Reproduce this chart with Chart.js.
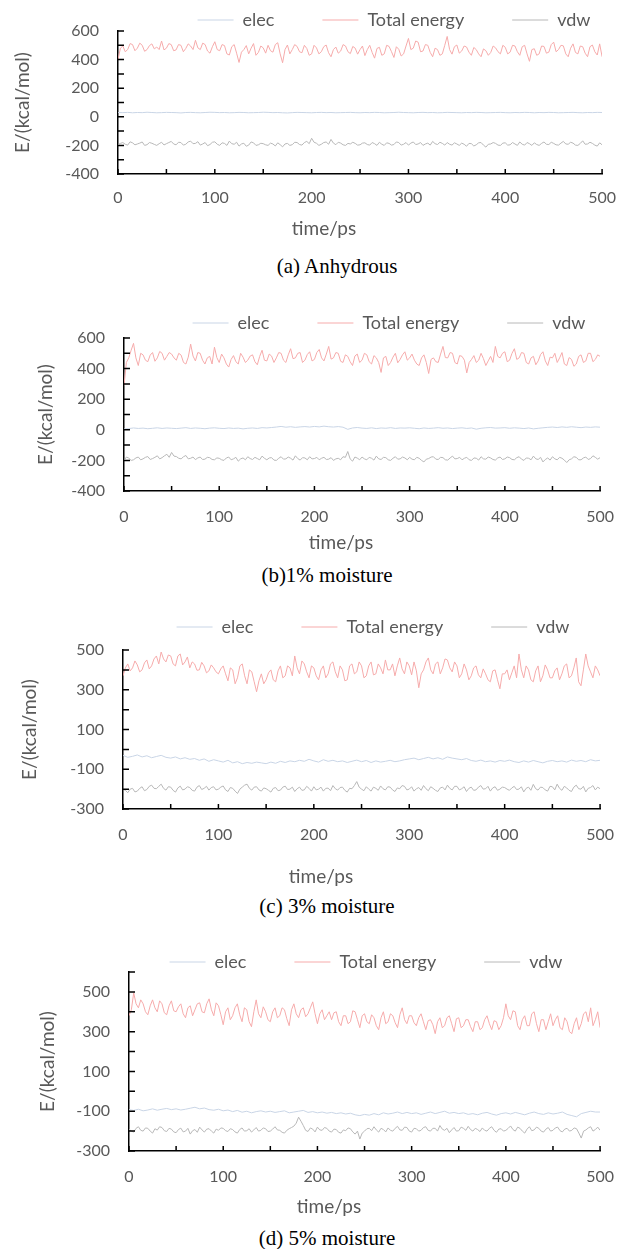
<!DOCTYPE html>
<html>
<head>
<meta charset="utf-8">
<script src="https://cdn.jsdelivr.net/npm/chart.js@4.4.1/dist/chart.umd.min.js"></script>
<style>
  body { margin: 0; background: #fff; width: 630px; height: 1249px; position: relative; overflow: hidden; }
  canvas { position: absolute; left: 0; }
  .cap { position: absolute; font-family: "Liberation Serif", "Times New Roman", serif; font-size: 21px; color: #000;
         transform: translate(-50%, -50%); white-space: nowrap; }
</style>
</head>
<body>
<canvas id="chartA" width="630" height="240" style="top:0px"></canvas>
<canvas id="chartB" width="630" height="254" style="top:300px"></canvas>
<canvas id="chartC" width="630" height="278" style="top:610px"></canvas>
<canvas id="chartD" width="630" height="288" style="top:930px"></canvas>
<div class="cap" style="left:337px;top:266px">(a) Anhydrous</div>
<div class="cap" style="left:327px;top:575px">(b)1% moisture</div>
<div class="cap" style="left:327px;top:906px">(c) 3% moisture</div>
<div class="cap" style="left:327px;top:1238px">(d) 5% moisture</div>
<script>
// time axis, 5 ps steps (elec) and 2.5 ps steps (Total energy, vdw)
const TIME = [
  0, 5, 10, 15, 20, 25, 30, 35, 40, 45,
  50, 55, 60, 65, 70, 75, 80, 85, 90, 95,
  100, 105, 110, 115, 120, 125, 130, 135, 140, 145,
  150, 155, 160, 165, 170, 175, 180, 185, 190, 195,
  200, 205, 210, 215, 220, 225, 230, 235, 240, 245,
  250, 255, 260, 265, 270, 275, 280, 285, 290, 295,
  300, 305, 310, 315, 320, 325, 330, 335, 340, 345,
  350, 355, 360, 365, 370, 375, 380, 385, 390, 395,
  400, 405, 410, 415, 420, 425, 430, 435, 440, 445,
  450, 455, 460, 465, 470, 475, 480, 485, 490, 495,
  500
];
const TIME_FINE = [
  0, 2.5, 5, 7.5, 10, 12.5, 15, 17.5, 20, 22.5, 25, 27.5, 30, 32.5, 35, 37.5, 40, 42.5, 45, 47.5,
  50, 52.5, 55, 57.5, 60, 62.5, 65, 67.5, 70, 72.5, 75, 77.5, 80, 82.5, 85, 87.5, 90, 92.5, 95, 97.5,
  100, 102.5, 105, 107.5, 110, 112.5, 115, 117.5, 120, 122.5, 125, 127.5, 130, 132.5, 135, 137.5, 140, 142.5, 145, 147.5,
  150, 152.5, 155, 157.5, 160, 162.5, 165, 167.5, 170, 172.5, 175, 177.5, 180, 182.5, 185, 187.5, 190, 192.5, 195, 197.5,
  200, 202.5, 205, 207.5, 210, 212.5, 215, 217.5, 220, 222.5, 225, 227.5, 230, 232.5, 235, 237.5, 240, 242.5, 245, 247.5,
  250, 252.5, 255, 257.5, 260, 262.5, 265, 267.5, 270, 272.5, 275, 277.5, 280, 282.5, 285, 287.5, 290, 292.5, 295, 297.5,
  300, 302.5, 305, 307.5, 310, 312.5, 315, 317.5, 320, 322.5, 325, 327.5, 330, 332.5, 335, 337.5, 340, 342.5, 345, 347.5,
  350, 352.5, 355, 357.5, 360, 362.5, 365, 367.5, 370, 372.5, 375, 377.5, 380, 382.5, 385, 387.5, 390, 392.5, 395, 397.5,
  400, 402.5, 405, 407.5, 410, 412.5, 415, 417.5, 420, 422.5, 425, 427.5, 430, 432.5, 435, 437.5, 440, 442.5, 445, 447.5,
  450, 452.5, 455, 457.5, 460, 462.5, 465, 467.5, 470, 472.5, 475, 477.5, 480, 482.5, 485, 487.5, 490, 492.5, 495, 497.5,
  500
];
const X_TICKS = [0, 100, 200, 300, 400, 500];

// (a) Anhydrous
const TOTAL_A = [
  400, 480, 495, 455, 470, 512, 505, 462, 480, 515, 500, 458, 470, 498, 510, 475, 488, 470, 530, 468,
  480, 512, 505, 462, 468, 505, 500, 455, 478, 510, 495, 470, 535, 482, 470, 515, 505, 460, 445, 490,
  525, 470, 462, 505, 498, 440, 432, 490, 505, 445, 380, 452, 470, 498, 440, 480, 512, 430, 450, 495,
  482, 445, 500, 462, 452, 505, 518, 440, 378, 470, 502, 440, 470, 505, 492, 455, 448, 500, 478, 430,
  440, 500, 482, 440, 455, 490, 502, 448, 420, 470, 488, 445, 460, 505, 495, 455, 442, 492, 480, 438,
  470, 495, 428, 470, 500, 450, 410, 478, 486, 430, 440, 500, 492, 455, 415, 490, 472, 425, 440, 495,
  548, 470, 480, 530, 522, 455, 460, 505, 500, 450, 420, 480, 470, 430, 440, 500, 562, 470, 438, 490,
  502, 445, 460, 495, 488, 452, 430, 485, 470, 440, 420, 475, 462, 430, 450, 495, 482, 455, 440, 500,
  486, 440, 452, 500, 495, 455, 430, 490, 500, 440, 388, 470, 476, 430, 440, 495, 492, 445, 452, 505,
  522, 455, 470, 500, 496, 440, 420, 480, 510, 450, 440, 495, 490, 445, 420, 490, 502, 455, 432, 510,
  420
];
const ELEC_A = [
  30, 29, 31, 28, 30, 29, 32, 30, 28, 29,
  31, 30, 29, 27, 30, 31, 29, 28, 30, 32,
  31, 29, 30, 28, 29, 31, 30, 28, 29, 30,
  32, 31, 29, 30, 28, 27, 29, 31, 30, 29,
  28, 30, 31, 29, 30, 28, 29, 30, 31, 29,
  28, 30, 29, 31, 30, 28, 29, 30, 32, 30,
  29, 28, 30, 31, 29, 30, 28, 29, 31, 30,
  29, 28, 30, 29, 31, 30, 28, 29, 30, 31,
  29, 28, 30, 29, 31, 30, 28, 30, 29, 31,
  30, 28, 29, 30, 31, 29, 28, 30, 29, 31,
  30
];
const VDW_A = [
  -195, -186, -180, -192, -198, -175, -182, -196, -190, -184, -176, -200, -195, -180, -185, -193, -200, -188, -178, -197,
  -188, -180, -172, -190, -196, -178, -180, -198, -192, -176, -170, -188, -186, -174, -198, -190, -180, -202, -194, -178,
  -175, -192, -200, -182, -186, -200, -170, -188, -192, -178, -205, -190, -185, -206, -198, -176, -182, -200, -196, -185,
  -188, -196, -200, -184, -190, -204, -182, -195, -210, -190, -186, -200, -195, -178, -180, -194, -198, -180, -172, -188,
  -150, -178, -185, -200, -192, -180, -176, -192, -158, -184, -195, -178, -184, -196, -200, -186, -190, -178, -186, -198,
  -196, -184, -182, -194, -198, -180, -188, -200, -178, -192, -200, -182, -186, -198, -194, -176, -180, -198, -192, -180,
  -198, -184, -176, -194, -190, -180, -200, -190, -184, -198, -172, -188, -194, -178, -186, -198, -180, -192, -198, -182,
  -190, -200, -184, -192, -206, -186, -188, -204, -196, -182, -180, -198, -212, -192, -190, -180, -186, -198, -200, -184,
  -182, -198, -196, -180, -190, -200, -176, -192, -198, -180, -188, -200, -182, -194, -200, -186, -176, -192, -194, -178,
  -186, -196, -198, -184, -172, -190, -192, -178, -184, -198, -200, -186, -168, -192, -190, -178, -186, -198, -205, -182,
  -196
];
const Y_TICKS_A = [-400, -200, 0, 200, 400, 600];

// (b) 1% moisture
const TOTAL_B = [
  290, 440, 470, 520, 565, 470, 420, 500, 490, 455, 445, 488, 505, 448, 470, 512, 500, 455, 480, 505,
  495, 470, 455, 500, 488, 440, 430, 475, 560, 482, 450, 505, 500, 455, 430, 470, 480, 430, 540, 472,
  440, 495, 470, 430, 410, 460, 485, 445, 430, 500, 475, 440, 455, 482, 490, 445, 425, 480, 520, 455,
  450, 495, 482, 440, 470, 505, 500, 455, 440, 490, 530, 465, 470, 500, 505, 440, 455, 492, 510, 450,
  460, 505, 525, 470, 450, 495, 545, 462, 470, 505, 500, 448, 440, 490, 480, 445, 420, 482, 495, 440,
  455, 500, 490, 445, 430, 485, 470, 440, 375, 470, 480, 420, 440, 475, 500, 438, 460, 490, 510, 455,
  470, 495, 455, 430, 420, 470, 490, 440, 368, 460, 470, 445, 440, 495, 545, 472, 470, 505, 500, 440,
  430, 485, 480, 455, 372, 440, 460, 485, 440, 455, 500, 465, 420, 450, 480, 440, 545, 480, 470, 500,
  510, 445, 455, 500, 530, 460, 470, 505, 500, 440, 430, 470, 480, 425, 450, 492, 510, 450, 420, 475,
  470, 500, 440, 470, 505, 430, 420, 472, 460, 415, 430, 480, 490, 440, 450, 500, 500, 445, 460, 490,
  480
];
const ELEC_B = [
  5, 8, 12, 9, 11, 7, 10, 13, 9, 12,
  10, 8, 11, 14, 9, 12, 10, 7, 11, 13,
  10, 8, 12, 9, 11, 6, 10, 12, 9, 14,
  12, 15, 18, 22, 17, 20, 16, 19, 21, 18,
  22, 19, 24, 20, 18, 21, 17, 3, 12, 15,
  11, 9, 13, 8, 12, 10, 14, 9, 12, 11,
  13, 10, 7, 12, 9, 11, 14, 10, 12, 8,
  11, 13, 9, 12, 4, 10, 13, 15, 11, 12,
  14, 10, 13, 11, 8, 12, 6, 10, 13, 16,
  18, 15, 19, 16, 20, 17, 14, 18, 16, 19,
  17
];
const VDW_B = [
  -200, -178, -185, -200, -196, -184, -178, -196, -190, -180, -175, -194, -188, -180, -170, -190, -182, -170, -160, -180,
  -148, -172, -175, -186, -190, -176, -168, -190, -186, -178, -195, -184, -178, -194, -192, -180, -182, -194, -196, -184,
  -186, -196, -200, -184, -178, -196, -190, -180, -205, -190, -184, -196, -176, -188, -194, -180, -188, -196, -172, -186,
  -196, -184, -182, -198, -200, -186, -176, -192, -190, -178, -186, -198, -170, -188, -198, -182, -184, -196, -176, -190,
  -188, -180, -196, -186, -180, -194, -192, -182, -200, -190, -186, -196, -176, -180, -142, -190, -205, -178, -185, -196,
  -178, -190, -196, -180, -186, -198, -172, -190, -194, -180, -182, -196, -200, -186, -176, -192, -190, -178, -184, -196,
  -180, -192, -196, -180, -186, -200, -210, -192, -188, -178, -176, -192, -194, -180, -182, -196, -198, -184, -172, -190,
  -188, -180, -196, -186, -180, -196, -200, -184, -186, -198, -176, -190, -192, -178, -184, -194, -198, -184, -178, -194,
  -190, -178, -182, -194, -196, -182, -176, -192, -200, -184, -186, -196, -172, -190, -194, -180, -210, -194, -184, -198,
  -176, -190, -196, -180, -186, -198, -214, -196, -190, -176, -180, -196, -196, -184, -178, -194, -188, -170, -180, -192,
  -182
];
const Y_TICKS_B = [-400, -200, 0, 200, 400, 600];

// (c) 3% moisture
const TOTAL_C = [
  370, 410, 430, 395, 410, 445, 425, 390, 400, 435, 450, 405, 420, 455, 470, 430, 490, 455, 440, 475,
  470, 430, 420, 470, 480, 425, 440, 465, 410, 440, 430, 398, 400, 438, 420, 385, 395, 425, 410, 390,
  380, 405, 420, 380, 345, 410, 400, 330, 360, 420, 430, 370, 330, 400, 390, 340, 290, 345, 380, 330,
  350, 385, 400, 350, 340, 395, 420, 360, 370, 420, 410, 370, 470, 410, 380, 445, 430, 390, 360, 420,
  410, 370, 350, 400, 420, 360, 380, 430, 440, 390, 360, 420, 400, 345, 350, 420, 430, 380, 390, 440,
  420, 360, 370, 420, 440, 375, 380, 430, 410, 380, 450, 400, 400, 430, 370, 420, 460, 405, 380, 440,
  420, 375, 440, 395, 310, 380, 400, 440, 460, 400, 380, 430, 440, 380, 410, 455, 450, 410, 390, 440,
  420, 360, 380, 430, 400, 350, 370, 410, 420, 375, 360, 405, 380, 350, 340, 395, 400, 350, 305, 380,
  380, 400, 350, 385, 420, 360, 480, 400, 360, 420, 400, 350, 340, 395, 420, 340, 370, 425, 400, 360,
  360, 395, 410, 350, 380, 420, 430, 360, 370, 410, 460, 340, 320, 400, 480, 420, 390, 360, 420, 400,
  370
];
const ELEC_C = [
  -30, -40, -35, -28, -38, -32, -42, -36, -30, -40,
  -44, -38, -48, -42, -50, -46, -55, -48, -60, -52,
  -58, -64, -55, -68, -62, -72, -66, -70, -64, -68,
  -72, -64, -70, -60, -66, -58, -62, -55, -60, -50,
  -58, -64, -52, -60, -55, -62, -58, -66, -60, -54,
  -62, -56, -66, -58, -64, -60, -55, -62, -58, -52,
  -48, -44, -52, -46, -40, -48, -42, -50, -38, -44,
  -48, -52, -46, -56, -60, -54, -62, -58, -64, -56,
  -60, -54, -62, -66, -58, -64, -56, -62, -68, -60,
  -56, -62, -58, -64, -54, -60, -56, -62, -52, -58,
  -55
];
const VDW_C = [
  -200, -206, -218, -200, -196, -214, -210, -196, -188, -208, -202, -186, -180, -196, -198, -186, -175, -196, -205, -188,
  -190, -206, -215, -194, -185, -204, -200, -188, -192, -206, -210, -190, -182, -202, -196, -186, -205, -192, -188, -204,
  -200, -190, -184, -204, -212, -192, -196, -210, -222, -200, -190, -180, -175, -196, -205, -190, -188, -204, -210, -194,
  -198, -206, -215, -196, -192, -208, -205, -190, -185, -202, -200, -190, -212, -198, -190, -206, -204, -186, -196, -210,
  -188, -204, -200, -190, -210, -196, -195, -208, -182, -198, -205, -192, -190, -206, -215, -196, -198, -182, -162, -190,
  -200, -208, -188, -200, -210, -190, -196, -206, -184, -198, -204, -188, -190, -204, -212, -194, -198, -182, -186, -204,
  -200, -188, -210, -198, -192, -206, -182, -198, -208, -188, -196, -206, -212, -194, -190, -204, -180, -196, -204, -186,
  -186, -204, -198, -188, -212, -196, -190, -206, -204, -190, -182, -200, -198, -186, -210, -194, -188, -206, -200, -190,
  -192, -200, -206, -194, -186, -202, -200, -188, -214, -196, -190, -206, -176, -198, -205, -190, -192, -204, -210, -186,
  -188, -204, -175, -196, -206, -186, -194, -206, -212, -190, -180, -198, -200, -186, -214, -196, -192, -182, -204, -190,
  -198
];
const Y_TICKS_C = [-300, -100, 100, 300, 500];

// (d) 5% moisture
const TOTAL_D = [
  380, 410, 495, 440, 420, 460, 440, 400, 385, 430, 460, 420, 400, 455, 440, 395, 385, 430, 455, 405,
  400, 425, 440, 390, 370, 420, 430, 380, 410, 440, 445, 400, 395, 440, 465, 410, 380, 445, 430, 385,
  335, 400, 420, 360, 380, 420, 440, 385, 350, 420, 410, 350, 325, 400, 460, 390, 370, 425, 400, 360,
  350, 400, 420, 370, 380, 420, 410, 365, 330, 410, 440, 390, 370, 410, 420, 375, 390, 420, 450, 390,
  340, 390, 410, 360, 380, 400, 360, 395, 400, 350, 330, 380, 380, 340, 350, 405, 400, 360, 320, 380,
  390, 350, 340, 385, 370, 330, 310, 370, 400, 340, 350, 390, 380, 345, 320, 385, 420, 360, 340, 380,
  380, 345, 330, 370, 390, 350, 310, 355, 360, 335, 290, 350, 370, 320, 330, 370, 380, 340, 300, 365,
  370, 320, 330, 360, 360, 325, 300, 350, 350, 310, 320, 360, 380, 340, 310, 355, 350, 310, 330, 370,
  440, 380, 360, 405, 400, 330, 310, 360, 380, 330, 330, 390, 400, 340, 300, 360, 360, 310, 350, 390,
  330, 360, 380, 320, 310, 370, 350, 300, 290, 340, 370, 310, 340, 390, 400, 350, 420, 330, 360, 400,
  320
];
const ELEC_D = [
  -92, -96, -90, -98, -94, -88, -95, -90, -86, -92,
  -88, -94, -90, -85, -80, -88, -84, -92, -95, -90,
  -98, -94, -102, -96, -105, -100, -108, -102, -98, -104,
  -100, -106, -102, -98, -108, -104, -100, -96, -106, -102,
  -108, -104, -110, -106, -112, -108, -114, -110, -118, -122,
  -116, -120, -112, -118, -108, -114, -110, -104, -112, -106,
  -112, -108, -116, -110, -104, -112, -106, -100, -110, -106,
  -112, -108, -116, -112, -118, -110, -106, -114, -120, -112,
  -108, -114, -106, -112, -118, -110, -104, -112, -116, -108,
  -114, -110, -104, -116, -122, -128, -112, -106, -100, -104,
  -104
];
const VDW_D = [
  -190, -200, -205, -186, -178, -196, -200, -184, -186, -200, -210, -188, -195, -178, -182, -198, -202, -186, -190, -204,
  -208, -192, -185, -204, -200, -186, -215, -198, -192, -206, -180, -194, -205, -190, -188, -200, -210, -190, -196, -184,
  -186, -198, -202, -188, -192, -204, -210, -192, -184, -200, -198, -188, -205, -194, -182, -200, -196, -184, -188, -202,
  -200, -190, -178, -194, -196, -206, -210, -196, -188, -182, -175, -160, -130, -150, -172, -196, -202, -184, -190, -204,
  -180, -194, -196, -182, -186, -200, -205, -190, -192, -206, -210, -194, -198, -184, -188, -204, -215, -200, -240, -210,
  -200, -188, -186, -198, -178, -194, -205, -186, -192, -204, -184, -196, -200, -186, -176, -194, -196, -180, -182, -200,
  -205, -186, -188, -200, -196, -182, -178, -196, -200, -186, -186, -200, -172, -190, -196, -186, -208, -194, -182, -200,
  -198, -180, -186, -196, -176, -192, -200, -186, -192, -202, -184, -196, -200, -186, -178, -196, -206, -190, -188, -200,
  -196, -186, -174, -192, -200, -180, -186, -200, -210, -190, -178, -198, -194, -180, -186, -200, -205, -190, -182, -200,
  -196, -184, -180, -198, -204, -190, -186, -200, -196, -184, -188, -210, -235, -200, -194, -184, -178, -200, -192, -180,
  -196
];
const Y_TICKS_D = [-300, -100, 100, 300, 500];

const GREY = '#595959';
const COLORS = { elec: '#c9d5e6', total: '#f6abab', vdw: '#b8b8b8' };
const TITLE_FONT = { family: 'Lato', size: 19, weight: 'normal' };

// inward tick marks (Excel style), legend and x-title placement
const excelBits = {
  id: 'excelBits',
  afterLayout(chart, args, opts) {
    const lg = chart.legend;
    const pad = lg.options.labels.padding;
    const fs = lg.options.labels.font.size;
    lg.left = opts.legendX - 315;
    lg.right = opts.legendX + 315;
    lg.top = opts.legendY - pad - fs / 2;
    lg.bottom = opts.legendY + pad + fs;

    const tb = chart.titleBlock;
    const lh = TITLE_FONT.size * 1.2;
    tb.left = opts.titleX - 315;
    tb.right = opts.titleX + 315;
    tb.top = opts.titleY - lh / 2;
    tb.bottom = tb.top + lh;
  },
  afterDatasetsDraw(chart, args, opts) {
    const { ctx, chartArea, scales: { x, y } } = chart;
    ctx.save();
    ctx.strokeStyle = '#000';
    ctx.lineWidth = 1.5;
    ctx.beginPath();
    for (let v = y.min; v <= y.max + 0.001; v += 100) {
      const py = y.getPixelForValue(v);
      ctx.moveTo(chartArea.left, py);
      ctx.lineTo(chartArea.left + 6, py);
    }
    for (let v = x.min; v <= x.max + 0.001; v += 50) {
      const px = x.getPixelForValue(v);
      ctx.moveTo(px, chartArea.bottom);
      ctx.lineTo(px, chartArea.bottom - 5);
    }
    ctx.stroke();
    ctx.restore();
  }
};

function pts(times, vals) {
  return times.map((t, i) => ({ x: t, y: vals[i] }));
}

function makeChart(id, p) {
  new Chart(document.getElementById(id), {
    type: 'line',
    data: {
      datasets: [
        { label: 'elec', data: pts(TIME, p.elec), borderColor: COLORS.elec },
        { label: 'Total energy', data: pts(TIME_FINE, p.total), borderColor: COLORS.total },
        { label: 'vdw', data: pts(TIME_FINE, p.vdw), borderColor: COLORS.vdw }
      ]
    },
    plugins: [excelBits],
    options: {
      responsive: false,
      animation: false,
      devicePixelRatio: 1,
      events: [],
      elements: {
        point: { radius: 0 },
        line: { borderWidth: 1, tension: 0, fill: false }
      },
      layout: { padding: { top: p.padTop, right: p.padRight, left: 0, bottom: 0 } },
      plugins: {
        tooltip: { enabled: false },
        excelBits: { legendX: p.legendX, legendY: p.legendY, titleX: p.titleX, titleY: p.titleY },
        title: {
          display: true,
          text: 'time/ps',
          position: 'bottom',
          color: GREY,
          padding: 0,
          font: TITLE_FONT
        },
        legend: {
          position: 'top',
          maxHeight: 1,
          labels: {
            usePointStyle: true,
            pointStyle: 'line',
            pointStyleWidth: 36,
            padding: 48,
            color: GREY,
            font: { family: 'Lato', size: 18 }
          }
        }
      },
      scales: {
        x: {
          type: 'linear',
          min: 0,
          max: 500,
          afterBuildTicks: s => { s.ticks = X_TICKS.map(v => ({ value: v })); },
          afterFit: s => { s.height = p.xHeight; },
          grid: { display: false, drawTicks: false },
          border: { display: true, color: '#000', width: 1.5 },
          ticks: { color: GREY, padding: p.xTickPad, maxRotation: 0, autoSkip: false,
                   font: { family: 'Lato', size: 16 } }
        },
        y: {
          min: p.yMin,
          max: p.yMax,
          afterBuildTicks: s => { s.ticks = p.yTicks.map(v => ({ value: v })); },
          afterFit: s => { s.width = p.left; },
          grid: { display: false, drawTicks: false },
          border: { display: true, color: '#000', width: 1.5 },
          ticks: { color: GREY, padding: 19, font: { family: 'Lato', size: 16 } },
          title: { display: true, text: 'E/(kcal/mol)', color: GREY,
                   padding: { top: p.yTitlePad, bottom: 0 },
                   font: TITLE_FONT }
        }
      }
    }
  });
}

makeChart('chartA', {
  elec: ELEC_A, total: TOTAL_A, vdw: VDW_A, yTicks: Y_TICKS_A, yMin: -400, yMax: 600,
  padTop: 30, padRight: 17, left: 118, xHeight: 43.2, xTickPad: 14, yTitlePad: 11.6,
  legendX: 394, legendY: 20, titleX: 324, titleY: 229
});
makeChart('chartB', {
  elec: ELEC_B, total: TOTAL_B, vdw: VDW_B, yTicks: Y_TICKS_B, yMin: -400, yMax: 600,
  padTop: 37, padRight: 25, left: 124, xHeight: 40.2, xTickPad: 16, yTitlePad: 34.6,
  legendX: 389, legendY: 23, titleX: 341, titleY: 243
});
makeChart('chartC', {
  elec: ELEC_C, total: TOTAL_C, vdw: VDW_C, yTicks: Y_TICKS_C, yMin: -300, yMax: 500,
  padTop: 39, padRight: 17, left: 123, xHeight: 56.2, xTickPad: 16, yTitlePad: 18.6,
  legendX: 373, legendY: 17, titleX: 321, titleY: 267
});
makeChart('chartD', {
  elec: ELEC_D, total: TOTAL_D, vdw: VDW_D, yTicks: Y_TICKS_D, yMin: -300, yMax: 600,
  padTop: 41, padRight: 27, left: 129, xHeight: 44.2, xTickPad: 16, yTitlePad: 36.6,
  legendX: 366, legendY: 32, titleX: 329, titleY: 277
});
</script>
</body>
</html>
